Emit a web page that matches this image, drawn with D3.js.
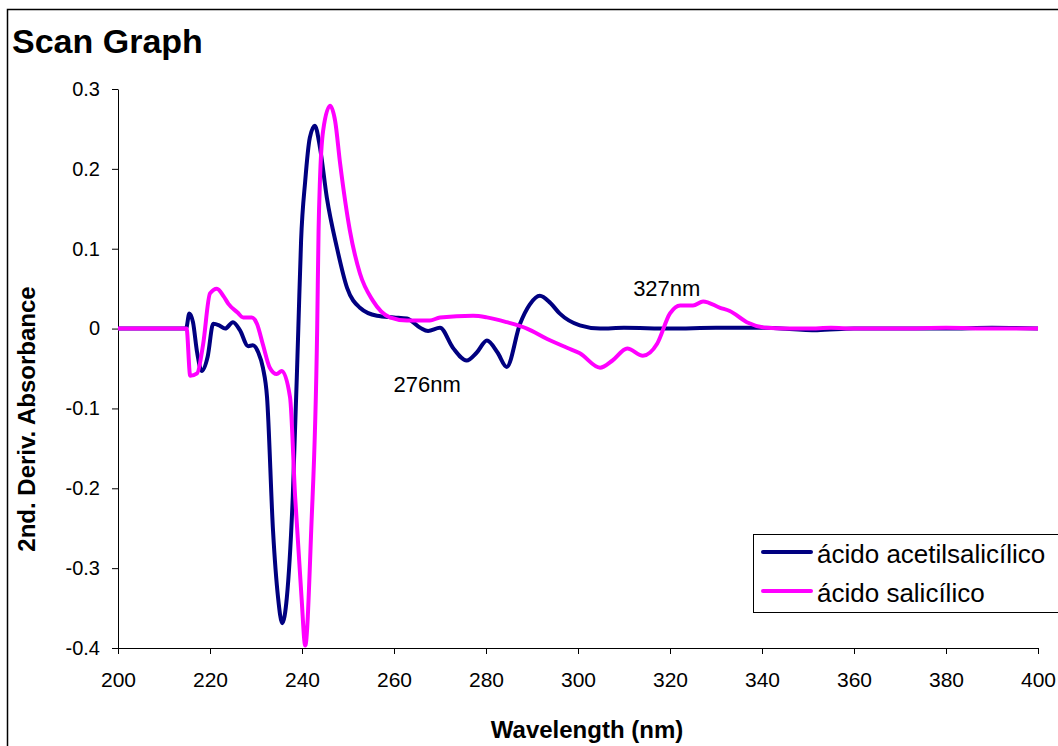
<!DOCTYPE html>
<html>
<head>
<meta charset="utf-8">
<script src="https://cdn.jsdelivr.net/npm/d3@7"></script>
<style>
    body { margin: 0; background: #fff; }
    svg { display: block; font-family: 'Liberation Sans', Arial, sans-serif; }
</style>
</head>
<body>
<div class="canvas"></div>
<script>
'use strict';

// wavelength (nm) / 2nd derivative readings
const acetilWl = [200, 214.8, 215.5, 216.3, 217.2, 218.2, 219.5, 220.7, 222, 223.3, 225, 226.5, 228.3, 229.3, 230.5,
    231.5, 232.4, 233.7, 234.8, 235.7, 236.7, 238, 239.2, 239.8, 240.7, 241.7, 242.8, 243.9, 245.4, 247.6, 249.8,
    252.6, 256.3, 260, 262.8, 265.7, 267.4, 270, 272.8, 275.8, 278, 280.2, 282.5, 284.5, 287.4, 289.5, 291.7, 294,
    296, 300.4, 304.8, 310, 320, 330, 340, 352, 360, 370, 380, 390, 400];
const acetilAbs = [0, 0, 0.019, 0.008, -0.03, -0.053, -0.035, 0.006, 0.004, 0, 0.008, -0.002, -0.022, -0.021, -0.03,
    -0.049, -0.086, -0.253, -0.337, -0.369, -0.337, -0.21, 0, 0.11, 0.185, 0.239, 0.254, 0.227, 0.164, 0.101, 0.051,
    0.026, 0.016, 0.014, 0.0125, 0.001, -0.003, 0.001, -0.024, -0.04, -0.03, -0.015, -0.03, -0.048, 0.006, 0.03, 0.041, 0.032,
    0.019, 0.004, 0, 0.001, 0, 0.001, 0.001, -0.002, 0, 0, 0, 0.001, 0];

const salicWl = [200, 214.9, 215.7, 217.2, 218.5, 220, 221.5, 223, 224, 226, 227.2, 229.1, 230.2, 231.5, 233, 234.5,
    235.6, 237.4, 238.5, 239.9, 240.7, 242, 243.3, 243.6, 243.9, 244.6, 246.1, 247.2, 248.3, 250.4, 252.6, 255.4,
    259.1, 262.8, 267.8, 270, 277.2, 280.2, 284.5, 288.9, 293.3, 297.6, 300.4, 304.8, 307.5, 310.7, 314.1, 317.2, 320,
    322.2, 325, 327.2, 330.9, 333, 336.7, 341, 345, 350, 355, 360, 370, 380, 390, 400];
const salicAbs = [0, 0, -0.059, -0.056, -0.02, 0.044, 0.05, 0.04, 0.031, 0.02, 0.014, 0.014, 0.006, -0.02, -0.049, -0.057,
    -0.053, -0.086, -0.21, -0.337, -0.397, -0.253, 0, 0.122, 0.185, 0.248, 0.279, 0.26, 0.206, 0.123, 0.069, 0.035,
    0.014, 0.01, 0.01, 0.014, 0.016, 0.014, 0.008, 0, -0.013, -0.024, -0.031, -0.049, -0.04, -0.025, -0.034, -0.019, 0.019,
    0.029, 0.029, 0.034, 0.026, 0.022, 0.008, 0.001, 0, 0, 0.001, 0, 0, 0.001, 0, 0];

const xTicks = [200, 220, 240, 260, 280, 300, 320, 340, 360, 380, 400];
const yTicks = [-0.4, -0.3, -0.2, -0.1, 0, 0.1, 0.2, 0.3];

const seriesNames = ['ácido acetilsalicílico', 'ácido salicílico'];
const seriesColours = ['#000080', '#ff00ff'];

const peakLabels = [
    { text: '276nm', wl: 267.2, v: -0.079 },
    { text: '327nm', wl: 319.3, v: 0.041 }
];

const dimensions = { width: 1058, height: 746 };
const plot = { left: 118, right: 1038, top: 89, bottom: 648 };

const svg = d3.select('.canvas')
    .append('svg')
    .attr('width', dimensions.width)
    .attr('height', dimensions.height);

// outer chart frame
svg.append('rect')
    .attr('x', 7.5).attr('y', 9.5)
    .attr('width', 1100).attr('height', 800)
    .attr('fill', 'none')
    .attr('stroke', '#000')
    .attr('stroke-width', 1.5);

svg.append('text')
    .attr('x', 12).attr('y', 53)
    .attr('font-size', 34).attr('font-weight', 'bold')
    .text('Scan Graph');

const x = d3.scaleLinear().domain([200, 400]).range([plot.left, plot.right]);
const y = d3.scaleLinear().domain([-0.4, 0.3]).range([plot.bottom, plot.top]);

const xAxis = svg.append('g')
    .attr('transform', `translate(0,${plot.bottom})`)
    .call(d3.axisBottom(x).tickValues(xTicks).tickSize(6).tickSizeOuter(0).tickFormat(d3.format('d')));
xAxis.selectAll('text').attr('dy', null).attr('y', 39).attr('font-size', 21).attr('fill', '#000');

const yAxis = svg.append('g')
    .attr('transform', `translate(${plot.left},0)`)
    .call(d3.axisLeft(y).tickValues(yTicks).tickSize(6).tickSizeOuter(0).tickPadding(12)
        .tickFormat(d => String(+d.toFixed(1))));
yAxis.selectAll('text').attr('font-size', 20).attr('fill', '#000');

[xAxis, yAxis].forEach(ax => {
    ax.attr('font-family', null);
    ax.selectAll('path, line').attr('stroke', '#000');
});

svg.append('text')
    .attr('x', (plot.left + plot.right) / 2 + 9).attr('y', 738)
    .attr('text-anchor', 'middle')
    .attr('font-size', 24).attr('font-weight', 'bold')
    .text('Wavelength (nm)');

svg.append('text')
    .attr('transform', 'translate(35,419) rotate(-90)')
    .attr('text-anchor', 'middle')
    .attr('font-size', 24).attr('font-weight', 'bold')
    .text('2nd. Deriv. Absorbance');

const line = d3.line()
    .x(d => x(d[0]))
    .y(d => y(d[1]))
    .curve(d3.curveMonotoneX);

const series = [
    d3.zip(acetilWl, acetilAbs),
    d3.zip(salicWl, salicAbs)
];

svg.append('g').selectAll('path')
    .data(series)
    .enter().append('path')
    .attr('d', line)
    .attr('fill', 'none')
    .attr('stroke', (d, i) => seriesColours[i])
    .attr('stroke-width', 4)
    .attr('stroke-linejoin', 'round');

svg.append('g').selectAll('text')
    .data(peakLabels)
    .enter().append('text')
    .attr('x', d => x(d.wl))
    .attr('y', d => y(d.v))
    .attr('text-anchor', 'middle')
    .attr('font-size', 22)
    .text(d => d.text);

// legend
const legend = svg.append('g').attr('transform', 'translate(753,534)');
legend.append('rect')
    .attr('x', 0.5).attr('y', 0.5)
    .attr('width', 400).attr('height', 78)
    .attr('fill', '#fff')
    .attr('stroke', '#000');

const items = legend.selectAll('g.item')
    .data(seriesNames)
    .enter().append('g')
    .attr('class', 'item')
    .attr('transform', (d, i) => `translate(0,${18 + i * 39})`);

items.append('line')
    .attr('x1', 10).attr('x2', 58)
    .attr('stroke', (d, i) => seriesColours[i])
    .attr('stroke-width', 4)
    .attr('stroke-linecap', 'round');

items.append('text')
    .attr('x', 64).attr('y', 11)
    .attr('font-size', 26)
    .text(d => d);
</script>
</body>
</html>
